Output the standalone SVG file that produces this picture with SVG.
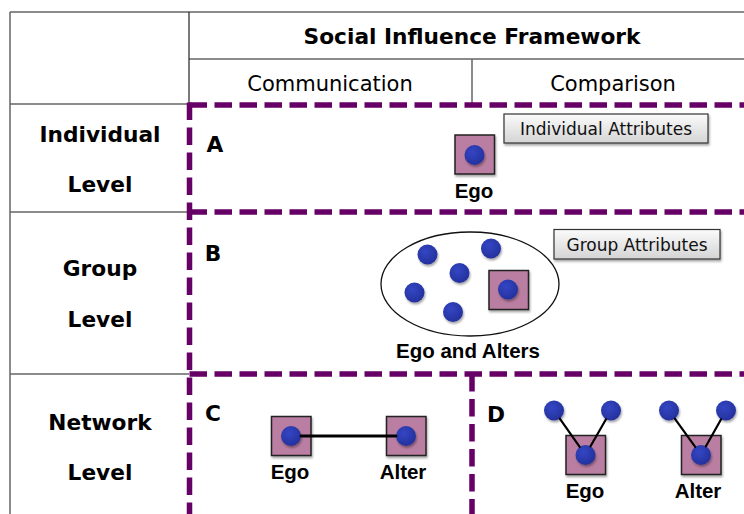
<svg xmlns="http://www.w3.org/2000/svg" width="744" height="514" viewBox="0 0 744 514">
<defs>
<radialGradient id="dotg" cx="0.4" cy="0.35" r="0.7">
<stop offset="0" stop-color="#3446c4"/>
<stop offset="1" stop-color="#23309a"/>
</radialGradient>
<linearGradient id="btng" x1="0" y1="0" x2="0" y2="1">
<stop offset="0" stop-color="#fbfbfb"/>
<stop offset="1" stop-color="#d4d4d4"/>
</linearGradient>
<filter id="sh" x="-30%" y="-30%" width="160%" height="160%">
<feDropShadow dx="1" dy="2" stdDeviation="1.2" flood-color="#000" flood-opacity="0.35"/>
</filter>
</defs>
<style>
.grid{stroke:#666;stroke-width:1.5;fill:none}
.gridk{stroke:#222;stroke-width:1.2;fill:none}
.dash{stroke:#660066;stroke-width:5.5;fill:none;stroke-dasharray:17.5 7.5}
.hd{font-family:"DejaVu Sans",Verdana,sans-serif;font-size:21px;fill:#000;text-anchor:middle}
.b{font-weight:bold;font-size:21.7px}
.lbl{font-family:"Liberation Sans",Arial,sans-serif;font-size:20.5px;font-weight:bold;fill:#000;text-anchor:middle}
.btn{fill:url(#btng);stroke:#333;stroke-width:1.2;filter:url(#sh)}
.btnt{font-family:"DejaVu Sans",Verdana,sans-serif;font-size:17px;fill:#111;text-anchor:middle}
.sq{fill:#b97ea1;stroke:#222;stroke-width:1.5;filter:url(#sh)}
.dot{fill:url(#dotg);filter:url(#sh)}
.edge{stroke:#000;stroke-width:2.8;fill:none;stroke-linecap:round}
.edge2{stroke:#000;stroke-width:2.2;fill:none;stroke-linecap:round}
</style>
<rect width="744" height="514" fill="#fff"/>
<g id="table">
<path class="grid" d="M10 12H744M10 12V514M189 59H744M472 59V104M10 104H189M10 212H189M10 374H189"/>
<path class="gridk" d="M189 12V104"/>
<text class="hd b" x="472" y="44">Social Influence Framework</text>
<text class="hd" x="330" y="91">Communication</text>
<text class="hd" x="613" y="91">Comparison</text>
<text class="hd b" x="100" y="142">Individual</text>
<text class="hd b" x="100" y="192">Level</text>
<text class="hd b" x="100" y="276">Group</text>
<text class="hd b" x="100" y="327">Level</text>
<text class="hd b" x="100" y="430">Network</text>
<text class="hd b" x="100" y="480">Level</text>
</g>
<g id="regions">
<path class="dash" d="M189.5 105H744"/>
<path class="dash" d="M189.5 212H744"/>
<path class="dash" d="M189.5 374H744"/>
<path class="dash" d="M189.5 102.5V514"/>
<path class="dash" d="M472 374V514"/>
<text class="hd b" x="215" y="152">A</text>
<text class="hd b" x="213" y="261">B</text>
<text class="hd b" x="213" y="421">C</text>
<text class="hd b" x="496" y="422">D</text>
</g>
<g id="individual-attributes">
<rect class="btn" x="504" y="114" width="204" height="29"/>
<text class="btnt" x="606" y="135">Individual Attributes</text>
</g>
<g id="group-attributes">
<rect class="btn" x="554" y="229.5" width="166" height="29.5"/>
<text class="btnt" x="637" y="250.5">Group Attributes</text>
</g>
<g id="ego-a">
<rect class="sq" x="455" y="135" width="39.5" height="39"/>
<circle class="dot" cx="474.5" cy="155" r="10"/>
<text class="lbl" x="474" y="198">Ego</text>
</g>
<g id="group-b">
<ellipse cx="470" cy="284" rx="89" ry="52" fill="#fff" stroke="#111" stroke-width="1.3"/>
<circle class="dot" cx="427.5" cy="254.5" r="10"/>
<circle class="dot" cx="491" cy="248.5" r="10"/>
<circle class="dot" cx="459.5" cy="273" r="10"/>
<circle class="dot" cx="414.5" cy="292.5" r="10"/>
<circle class="dot" cx="453" cy="312" r="10"/>
<rect class="sq" x="489" y="270.5" width="39.5" height="39"/>
<circle class="dot" cx="508" cy="289.5" r="10"/>
<text class="lbl" x="468" y="358">Ego and Alters</text>
</g>
<g id="ego-c">
<rect class="sq" x="271.5" y="416.5" width="39.5" height="39"/>
<circle class="dot" cx="291" cy="436" r="10"/>
<text class="lbl" x="290" y="479">Ego</text>
</g>
<g id="alter-c">
<rect class="sq" x="386.5" y="416.5" width="39.5" height="39"/>
<circle class="dot" cx="406" cy="436" r="10"/>
<text class="lbl" x="403" y="479">Alter</text>
</g>
<g id="ego-d">
<rect class="sq" x="566" y="435.5" width="39.5" height="39"/>
<circle class="dot" cx="585.5" cy="455" r="10"/>
<circle class="dot" cx="554" cy="410.5" r="10"/>
<circle class="dot" cx="611" cy="410.5" r="10"/>
<text class="lbl" x="585" y="498">Ego</text>
</g>
<g id="alter-d">
<rect class="sq" x="681.5" y="435.5" width="39.5" height="39"/>
<circle class="dot" cx="701" cy="455" r="10"/>
<circle class="dot" cx="669" cy="410.5" r="10"/>
<circle class="dot" cx="726" cy="410.5" r="10"/>
<text class="lbl" x="698" y="498">Alter</text>
</g>
<g id="connectors">
<path class="edge" d="M301 436H396"/>
<path class="edge2" d="M559.8 418.7L579.7 446.8M606 419.2L590.5 446.3M674.8 418.6L695.2 446.9M721.1 419.2L705.9 446.3"/>
</g>
</svg>
